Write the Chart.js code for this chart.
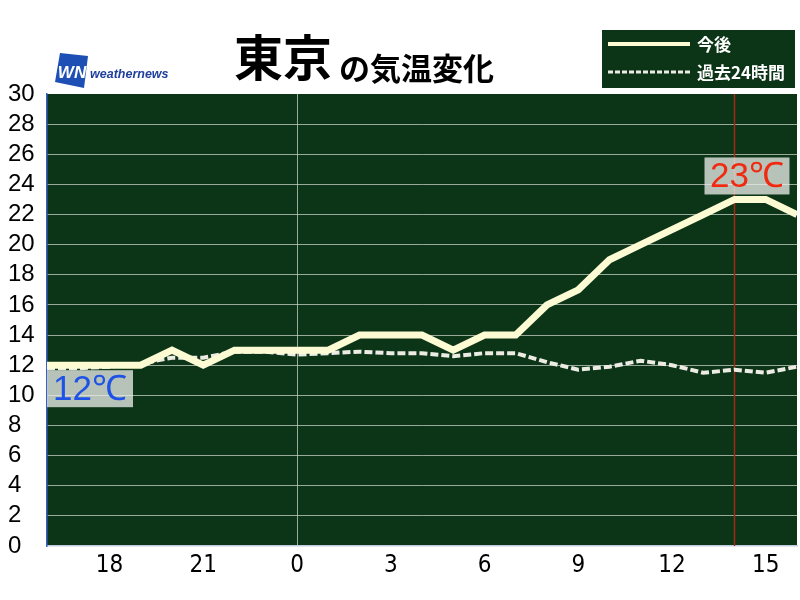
<!DOCTYPE html>
<html>
<head>
<meta charset="utf-8">
<script src="https://cdn.jsdelivr.net/npm/chart.js@4.4.0/dist/chart.umd.min.js"></script>
<style>
html,body{margin:0;padding:0;background:#fff;}
#wrap{width:800px;height:600px;position:relative;}
</style>
</head>
<body>
<div id="wrap"><canvas id="c" width="800" height="600"></canvas></div>
<script>
// ---- data ----
const hours = [-8,-7,-6,-5,-4,-3,-2,-1,0,1,2,3,4,5,6,7,8,9,10,11,12,13,14,15,16];
const forecast = [12,12,12,12,13,12,13,13,13,13,14,14,14,13,14,14,16,17,19,20,21,22,23,23,22];
const past24h = [11.8,11.8,11.9,12.1,12.5,12.5,12.9,12.9,12.7,12.8,12.9,12.8,12.8,12.6,12.8,12.8,12.2,11.7,11.9,12.3,12.0,11.5,11.7,11.5,11.9];
const tickHours = [-6,-3,0,3,6,9,12,15];
const tickLabels = ['18','21','0','3','6','9','12','15'];
const yTicks = [0,2,4,6,8,10,12,14,16,18,20,22,24,26,28,30];
const seriesNames = ['今後','過去24時間'];
const cityName = '東京';
const titleRest = 'の気温変化';
const nowHour = 14;

const PLOT_BG = '#0c3416';
const SOLID = '#fdfbd3';
const DASH = '#ecece4';

const toPts = (vals) => vals.map((v,i)=>({x:hours[i], y:v}));

const decor = {
  id:'decor',
  beforeDraw(chart){
    const {ctx, chartArea:a} = chart;
    ctx.save();
    ctx.fillStyle = PLOT_BG;
    ctx.fillRect(a.left, a.top, a.right-a.left, a.bottom-a.top);
    ctx.restore();
  },
  beforeDatasetsDraw(chart){
    const {ctx, chartArea:a, scales:{x}} = chart;
    const px = x.getPixelForValue(nowHour);
    ctx.save();
    ctx.strokeStyle = '#a02a1a';
    ctx.lineWidth = 1.5;
    ctx.beginPath();
    ctx.moveTo(px, a.top); ctx.lineTo(px, a.bottom);
    ctx.stroke();
    ctx.restore();
  },
  afterDatasetsDraw(chart){
    const {ctx, scales:{x,y}} = chart;
    ctx.save();
    // first value box
    const v0 = forecast[0];
    const bx0 = x.getPixelForValue(hours[0]);
    const by0 = y.getPixelForValue(v0) + 5;
    ctx.fillStyle = 'rgba(232,236,232,0.78)';
    ctx.fillRect(bx0, by0, 86, 37);
    ctx.font = '35px "Liberation Sans", Arial, sans-serif';
    ctx.textAlign = 'center';
    ctx.textBaseline = 'middle';
    ctx.fillStyle = '#1e52e6';
    ctx.fillText(v0 + '℃', bx0 + 43, by0 + 20);
    // max box
    let mi = 0;
    forecast.forEach((v,i)=>{ if(v>forecast[mi]) mi=i; });
    const vm = forecast[mi];
    const cx = x.getPixelForValue(hours[mi]) + 12.5;
    const byM = y.getPixelForValue(vm) - 5 - 37;
    ctx.fillStyle = 'rgba(232,236,232,0.78)';
    ctx.fillRect(cx-42.5, byM, 85, 37);
    ctx.fillStyle = '#f02a10';
    ctx.fillText(vm + '℃', cx, byM + 20);
    ctx.restore();
  },
  afterDraw(chart){
    const {ctx} = chart;
    ctx.save();
    // title
    ctx.fillStyle = '#000';
    ctx.textBaseline = 'alphabetic';
    ctx.textAlign = 'left';
    ctx.font = 'bold 49px "Noto Sans CJK JP", sans-serif';
    ctx.fillText(cityName, 234, 76);
    const w = ctx.measureText(cityName).width;
    ctx.font = 'bold 31px "Noto Sans CJK JP", sans-serif';
    ctx.fillText(titleRest, 234 + w + 7, 80);

    // logo
    ctx.fillStyle = '#1d4fb4';
    ctx.beginPath();
    ctx.moveTo(60,53); ctx.lineTo(88,56); ctx.lineTo(84,88); ctx.lineTo(55,82);
    ctx.closePath(); ctx.fill();
    ctx.fillStyle = '#fff';
    ctx.font = 'italic bold 17px "Liberation Sans", Arial, sans-serif';
    ctx.textAlign = 'center';
    ctx.textBaseline = 'middle';
    ctx.fillText('WN', 72, 73);
    ctx.fillStyle = '#1f3f9c';
    ctx.font = 'italic bold 12.5px "Liberation Sans", Arial, sans-serif';
    ctx.textAlign = 'left';
    ctx.fillText('weathernews', 90, 75);

    // legend
    ctx.fillStyle = PLOT_BG;
    ctx.fillRect(602, 30, 193, 58);
    ctx.strokeStyle = SOLID;
    ctx.lineWidth = 4;
    ctx.beginPath(); ctx.moveTo(608,44); ctx.lineTo(690,44); ctx.stroke();
    ctx.strokeStyle = DASH;
    ctx.lineWidth = 3;
    ctx.setLineDash([5,2]);
    ctx.beginPath(); ctx.moveTo(608,72); ctx.lineTo(690,72); ctx.stroke();
    ctx.setLineDash([]);
    ctx.fillStyle = '#fff';
    ctx.font = 'bold 17px "Noto Sans CJK JP", sans-serif';
    ctx.textAlign = 'left';
    ctx.textBaseline = 'middle';
    ctx.fillText(seriesNames[0], 697, 45);
    ctx.fillText(seriesNames[1], 697, 73);
    ctx.restore();
  }
};

new Chart(document.getElementById('c'), {
  type: 'line',
  data: {
    datasets: [
      {label: seriesNames[0], data: toPts(forecast), borderColor: SOLID, borderWidth: 7,
       pointRadius: 0, tension: 0, borderJoinStyle: 'miter', borderCapStyle: 'butt', fill: false},
      {label: seriesNames[1], data: toPts(past24h), borderColor: DASH, borderWidth: 4,
       borderDash: [8,3], pointRadius: 0, tension: 0, borderJoinStyle: 'miter', fill: false}
    ]
  },
  options: {
    responsive: false,
    animation: false,
    devicePixelRatio: 1,
    layout: {padding: {top: 94, left: 8, right: 3, bottom: 0}},
    plugins: {legend: {display: false}, tooltip: {enabled: false}, title: {display: false}},
    scales: {
      x: {
        type: 'linear',
        min: hours[0], max: hours[hours.length-1],
        afterBuildTicks: (ax) => { ax.ticks = tickHours.map(v=>({value:v})); },
        afterFit: (ax) => { ax.height = 54; },
        ticks: {
          autoSkip: false, maxRotation: 0, padding: 5,
          color: '#000',
          font: {family: '"Liberation Sans Narrow", "DejaVu Sans Condensed", "Liberation Sans", sans-serif', size: 24},
          callback: (v) => { const i = tickHours.indexOf(v); return i >= 0 ? tickLabels[i] : ''; }
        },
        grid: {
          drawTicks: false,
          color: (c) => (c.tick && c.tick.value === 0) ? 'rgba(190,200,190,0.8)' : 'rgba(0,0,0,0)',
          lineWidth: 1
        },
        border: {color: '#c4cce0', width: 1.5}
      },
      y: {
        min: 0, max: 30,
        afterBuildTicks: (ax) => { ax.ticks = yTicks.map(v=>({value:v})); },
        afterFit: (ax) => { ax.width = 39; },
        ticks: {
          autoSkip: false, crossAlign: 'far', padding: 0, color: '#000',
          font: {family: '"Liberation Sans", Arial, sans-serif', size: 24}
        },
        grid: {
          drawTicks: false,
          color: (c) => (c.tick && (c.tick.value === 0 || c.tick.value === 30)) ? 'rgba(0,0,0,0)' : 'rgba(200,210,200,0.75)',
          lineWidth: 1
        },
        border: {color: '#3562c8', width: 1.5}
      }
    }
  },
  plugins: [decor]
});
</script>
</body>
</html>
